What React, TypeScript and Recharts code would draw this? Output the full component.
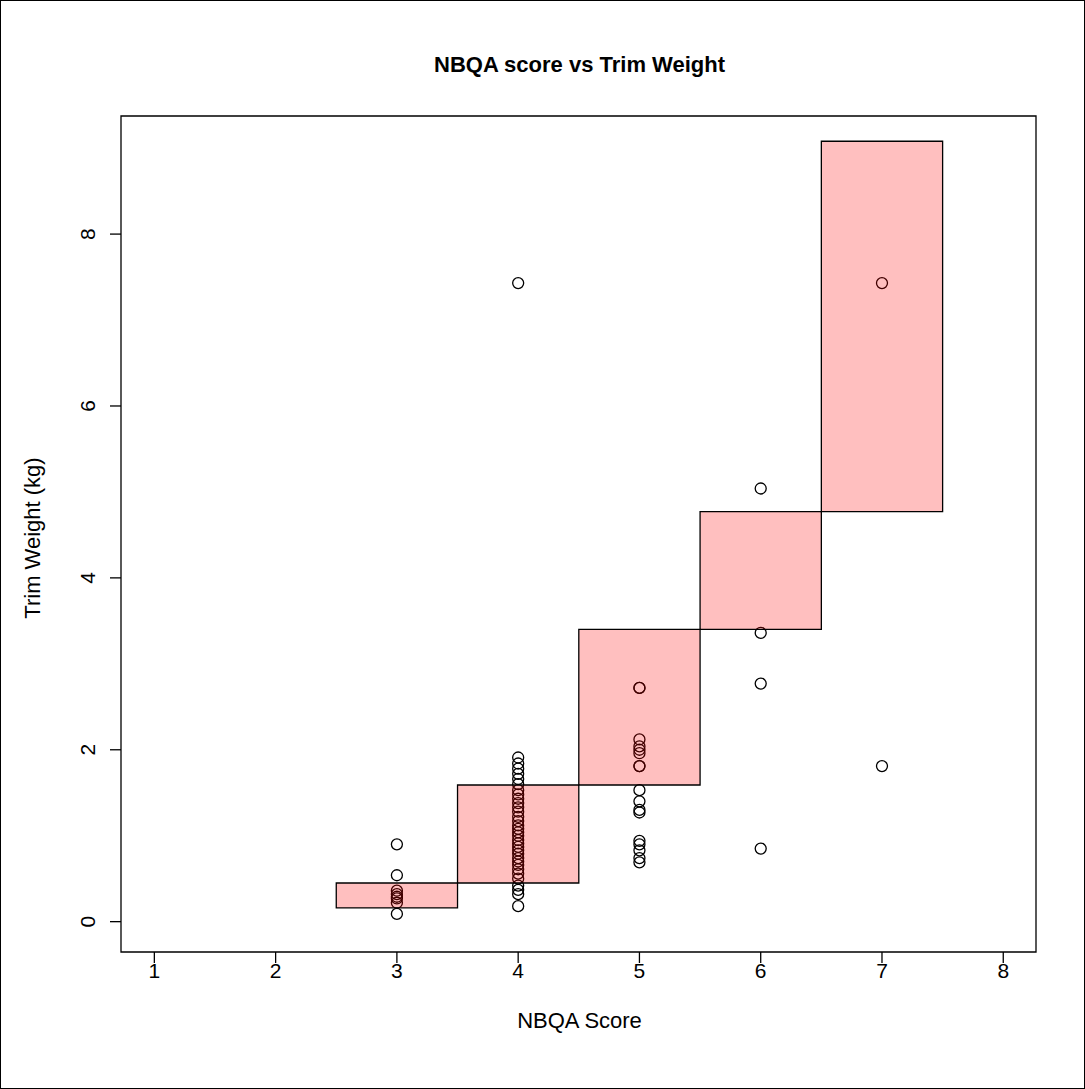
import {
  ComposedChart,
  Scatter,
  XAxis,
  YAxis,
  ReferenceArea,
} from "recharts";

// NBQA score of each carcass group and the trim weights measured (kg)
const score3 = [0.9, 0.54, 0.36, 0.32, 0.29, 0.27, 0.22, 0.09];
const score4 = [
  7.43, 1.91, 1.84, 1.78, 1.72, 1.66, 1.6, 1.53, 1.48, 1.43, 1.38, 1.33, 1.28,
  1.22, 1.17, 1.12, 1.08, 1.04, 1.0, 0.95, 0.91, 0.87, 0.83, 0.79, 0.74, 0.7,
  0.66, 0.61, 0.56, 0.5, 0.42, 0.37, 0.32, 0.18,
];
const score5 = [
  2.72, 2.72, 2.12, 2.04, 2.0, 1.96, 1.81, 1.81, 1.53, 1.4, 1.3, 1.27, 0.94,
  0.9, 0.83, 0.74, 0.69,
];
const score6 = [5.04, 3.36, 2.77, 0.85];
const score7 = [7.43, 1.81];

// shaded bands per score
const bandScores = [3, 4, 5, 6, 7];
const bandLow = [0.16, 0.45, 1.59, 3.4, 4.77];
const bandHigh = [0.45, 1.59, 3.4, 4.77, 9.08];

const xTicks = [1, 2, 3, 4, 5, 6, 7, 8];
const yTicks = [0, 2, 4, 6, 8];

const points = [
  ...score3.map((y) => ({ x: 3, y })),
  ...score4.map((y) => ({ x: 4, y })),
  ...score5.map((y) => ({ x: 5, y })),
  ...score6.map((y) => ({ x: 6, y })),
  ...score7.map((y) => ({ x: 7, y })),
];

const font = "'Liberation Sans', Arial, Helvetica, sans-serif";
const xDomain: [number, number] = [0.725, 8.27];
const yDomain: [number, number] = [-0.353, 9.374];

const Ring = (props: any) => {
  const { cx, cy } = props;
  if (cx == null || cy == null) return null;
  return <circle cx={cx} cy={cy} r={5.5} fill="none" stroke="#000" strokeWidth={1.3} />;
};

const XTick = ({ x, y, payload }: any) => (
  <text
    x={x}
    y={y + 7}
    textAnchor="middle"
    dominantBaseline="central"
    fontSize={21}
    fontFamily={font}
    fill="#000"
  >
    {payload.value}
  </text>
);

const YTick = ({ x, y, payload }: any) => (
  <text
    x={x - 22}
    y={y}
    transform={`rotate(-90, ${x - 22}, ${y})`}
    textAnchor="middle"
    dominantBaseline="central"
    fontSize={21}
    fontFamily={font}
    fill="#000"
  >
    {payload.value}
  </text>
);

export default function App() {
  return (
    <div
      style={{
        position: "absolute",
        left: 0,
        top: 0,
        width: 1085,
        height: 1089,
        boxSizing: "border-box",
        border: "1px solid #000",
        background: "#fff",
        fontFamily: font,
      }}
    >
      <div
        style={{
          position: "absolute",
          left: 121,
          width: 915,
          top: 51,
          textAlign: "center",
          fontSize: 22,
          fontWeight: 700,
        }}
      >
        NBQA score vs Trim Weight
      </div>
      <div
        style={{
          position: "absolute",
          left: 121,
          width: 915,
          top: 1007,
          textAlign: "center",
          fontSize: 22,
        }}
      >
        NBQA Score
      </div>
      <div
        style={{
          position: "absolute",
          left: 32,
          top: 537,
          transform: "translate(-50%, -50%) rotate(-90deg)",
          whiteSpace: "nowrap",
          fontSize: 22,
        }}
      >
        Trim Weight (kg)
      </div>
      <ComposedChart
        width={1083}
        height={1087}
        data={points}
        margin={{ top: 115, right: 48, bottom: 0, left: 0 }}
        style={{ position: "absolute", left: 0, top: 0 }}
      >
        <XAxis
          type="number"
          dataKey="x"
          domain={xDomain}
          ticks={xTicks}
          allowDataOverflow
          axisLine={false}
          tickLine={{ stroke: "#000", strokeWidth: 1.3 }}
          tickSize={11}
          tickMargin={0}
          height={136}
          tick={<XTick />}
          interval={0}
        />
        <YAxis
          type="number"
          dataKey="y"
          domain={yDomain}
          ticks={yTicks}
          allowDataOverflow
          axisLine={false}
          tickLine={{ stroke: "#000", strokeWidth: 1.3 }}
          tickSize={11}
          tickMargin={0}
          width={120}
          tick={<YTick />}
          interval={0}
        />
        <Scatter
          data={points}
          dataKey="y"
          shape={<Ring />}
          isAnimationActive={false}
        />
        {bandScores.map((s, i) => (
          <ReferenceArea
            key={s}
            x1={s - 0.5}
            x2={s + 0.5}
            y1={bandLow[i]}
            y2={bandHigh[i]}
            fill="rgb(255,0,0)"
            fillOpacity={0.25}
            stroke="#000"
            strokeWidth={1.3}
            strokeOpacity={1}
            ifOverflow="visible"
            zIndex={700}
          />
        ))}
        <ReferenceArea
          x1={xDomain[0]}
          x2={xDomain[1]}
          y1={yDomain[0]}
          y2={yDomain[1]}
          fill="none"
          stroke="#000"
          strokeWidth={1.3}
          ifOverflow="visible"
          zIndex={800}
        />
      </ComposedChart>
    </div>
  );
}
